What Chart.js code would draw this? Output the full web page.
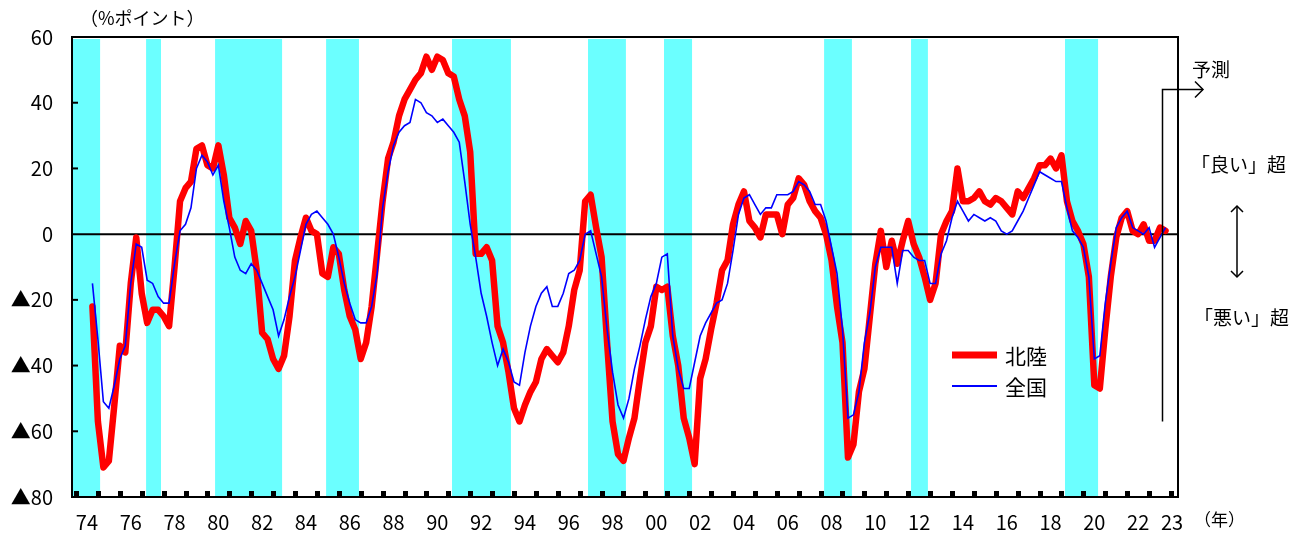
<!DOCTYPE html>
<html>
<head>
<meta charset="utf-8">
<script src="https://cdn.jsdelivr.net/npm/chart.js@4.4.1/dist/chart.umd.min.js"></script>
<style>
html, body { margin: 0; padding: 0; background: #fff; }
#wrap { width: 1306px; height: 535px; position: relative; }
</style>
</head>
<body>
<div id="wrap"><canvas id="chart"></canvas></div>
<script>
// 業況判断DI（四半期、1974年9月〜2023年9月予測）
const firstQuarter = 1974.75;

const hokuriku = [
    -22, -57, -71, -69, -52, -34, -36, -15, -1, -18,
    -27, -23, -23, -25, -28, -10, 10, 14, 16, 26,
    27, 21, 20, 27, 18, 5, 2, -3, 4, 1,
    -11, -30, -32, -38, -41, -37, -25, -8, -1, 5,
    1, 0, -12, -13, -4, -6, -17, -25, -29, -38,
    -33, -22, -6, 10, 23, 28, 36, 41, 44, 47,
    49, 54, 50, 54, 53, 49, 48, 41, 36, 25,
    -6, -6, -4, -8, -28, -33, -42, -53, -57, -52,
    -48, -45, -38, -35, -37, -39, -36, -28, -17, -11,
    10, 12, 2, -7, -33, -57, -67, -69, -62, -56,
    -44, -33, -28, -16, -17, -16, -31, -40, -56, -62,
    -70, -44, -38, -29, -21, -11, -8, 3, 9, 13,
    4, 2, -1, 6, 6, 6, 0, 9, 11, 17,
    15, 10, 7, 5, 0, -8, -22, -33, -68, -64,
    -48, -41, -25, -9, 1, -10, -2, -9, -2, 4,
    -3, -7, -13, -20, -15, 0, 4, 7, 20, 10,
    10, 11, 13, 10, 9, 11, 10, 8, 6, 13,
    11, 14, 17, 21, 21, 23, 20, 24, 10, 4,
    1, -3, -13, -46, -47, -29, -13, -1, 5, 7,
    1, 0, 3, -2, -2, 2, 1
];

const zenkoku = [
    -15, -32, -51, -53, -46, -38, -34, -15, -3, -4,
    -14, -15, -19, -21, -21, -9, 1, 3, 8, 20,
    24, 22, 18, 21, 10, 2, -7, -11, -12, -9,
    -11, -15, -19, -23, -31, -26, -19, -13, -5, 3,
    6, 7, 5, 3, 0, -7, -15, -21, -26, -27,
    -27, -22, -12, 8, 19, 27, 31, 33, 34, 41,
    40, 37, 36, 34, 35, 33, 31, 28, 16, 3,
    -7, -18, -25, -33, -40, -35, -39, -45, -46, -36,
    -28, -22, -18, -16, -22, -22, -18, -12, -11, -8,
    0, 1, -6, -13, -29, -42, -52, -56, -50, -41,
    -34, -26, -19, -15, -7, -6, -31, -41, -47, -47,
    -39, -31, -27, -24, -21, -20, -15, -5, 6, 11,
    12, 9, 6, 8, 8, 12, 12, 12, 13, 16,
    15, 13, 9, 9, 4, -4, -12, -29, -56, -55,
    -48, -33, -24, -10, -4, -4, -4, -15, -5, -5,
    -7, -8, -8, -15, -15, -6, -2, 5, 10, 7,
    4, 6, 5, 4, 5, 4, 1, 0, 1, 4,
    7, 11, 15, 19, 18, 17, 16, 16, 8, 1,
    -1, -4, -13, -38, -37, -21, -9, 2, 5, 7,
    2, 1, 0, 2, -4, -1, 2
];

// 景気後退期（シャドー部分）
const recessionStart = [1973.82, 1977.20, 1980.35, 1985.42, 1991.17, 1997.38, 2000.85, 2008.16, 2012.13, 2019.16];
const recessionEnd   = [1975.10, 1977.88, 1983.41, 1986.92, 1993.86, 1999.11, 2002.13, 2009.43, 2012.90, 2020.67];

const yearLabels = ['74', '76', '78', '80', '82', '84', '86', '88', '90', '92', '94', '96', '98',
    '00', '02', '04', '06', '08', '10', '12', '14', '16', '18', '20', '22', '23'];
const yearLabelPos = [1974.5, 1976.5, 1978.5, 1980.5, 1982.5, 1984.5, 1986.5, 1988.5, 1990.5,
    1992.5, 1994.5, 1996.5, 1998.5, 2000.5, 2002.5, 2004.5, 2006.5, 2008.5, 2010.5, 2012.5,
    2014.5, 2016.5, 2018.5, 2020.5, 2022.5, 2024.05];

const forecastAt = 2023.6;
const yTicks = [60, 40, 20, 0, -20, -40, -60, -80];

const quarters = hokuriku.map((_, i) => firstQuarter + i * 0.25);
const toPoints = arr => arr.map((v, i) => ({ x: quarters[i], y: v }));

const JP = '"Noto Sans CJK JP", "Noto Sans", sans-serif';

function arrowHead(ctx, x, y, dir, size) {
    // dir: 'right', 'up', 'down'
    ctx.beginPath();
    if (dir === 'right') {
        ctx.moveTo(x - size, y - size); ctx.lineTo(x, y); ctx.lineTo(x - size, y + size);
    } else if (dir === 'up') {
        ctx.moveTo(x - size, y + size); ctx.lineTo(x, y); ctx.lineTo(x + size, y + size);
    } else {
        ctx.moveTo(x - size, y - size); ctx.lineTo(x, y); ctx.lineTo(x + size, y - size);
    }
    ctx.stroke();
}

const decor = {
    id: 'decor',
    beforeDatasetsDraw(chart) {
        const { ctx, chartArea: a, scales: { x, y } } = chart;
        ctx.save();
        ctx.fillStyle = '#6BFFFF';
        recessionStart.forEach((s, k) => {
            const x1 = Math.max(x.getPixelForValue(s), a.left + 1);
            const x2 = x.getPixelForValue(recessionEnd[k]);
            ctx.fillRect(x1, a.top + 2, x2 - x1, a.bottom - a.top - 2);
        });
        const y0 = y.getPixelForValue(0);
        ctx.strokeStyle = '#000';
        ctx.lineWidth = 2;
        ctx.beginPath();
        ctx.moveTo(a.left, y0);
        ctx.lineTo(a.right, y0);
        ctx.stroke();
        ctx.restore();
    },
    afterDatasetsDraw(chart) {
        const { ctx, chartArea: a, scales: { x, y } } = chart;
        ctx.save();

        // frame
        ctx.strokeStyle = '#000';
        ctx.lineWidth = 2;
        ctx.strokeRect(a.left, a.top, a.right - a.left, a.bottom - a.top);

        // inner y ticks
        yTicks.forEach(v => {
            if (v === 0 || v === 60 || v === -80) return;
            const py = y.getPixelForValue(v);
            ctx.beginPath();
            ctx.moveTo(a.left, py);
            ctx.lineTo(a.left + 6, py);
            ctx.stroke();
        });

        // year tick squares on the bottom axis
        ctx.fillStyle = '#000';
        for (let yr = 1974; yr <= 2024; yr++) {
            const px = x.getPixelForValue(yr);
            ctx.fillRect(Math.round(px) - 2, a.bottom - 6, 5, 6);
        }

        // forecast marker
        const fx = Math.round(x.getPixelForValue(forecastAt)) + 0.5;
        const fTop = y.getPixelForValue(44);
        const fBot = y.getPixelForValue(-57);
        ctx.lineWidth = 1.5;
        ctx.beginPath();
        ctx.moveTo(fx, fBot);
        ctx.lineTo(fx, fTop);
        ctx.lineTo(1203, fTop);
        ctx.stroke();
        arrowHead(ctx, 1203, fTop, 'right', 8);

        // 良い / 悪い double arrow
        ctx.beginPath();
        ctx.moveTo(1237, 206);
        ctx.lineTo(1237, 277);
        ctx.stroke();
        arrowHead(ctx, 1237, 206, 'up', 6);
        arrowHead(ctx, 1237, 277, 'down', 6);

        ctx.fillStyle = '#000';
        ctx.textBaseline = 'middle';
        ctx.textAlign = 'left';
        ctx.font = '19px ' + JP;
        ctx.fillText('予測', 1192, 70);
        ctx.fillText('「良い」超', 1191, 165);
        ctx.fillText('「悪い」超', 1194, 318);
        ctx.font = '18px ' + JP;
        ctx.fillText('（%ポイント）', 80, 18);
        ctx.font = '17px ' + JP;
        ctx.fillText('（年）', 1194, 520);

        // legend
        chart.data.datasets.forEach((ds, k) => {
            const ly = k === 0 ? 355 : 386;
            ctx.strokeStyle = ds.borderColor;
            ctx.lineWidth = k === 0 ? 7 : 2;
            ctx.beginPath();
            ctx.moveTo(952, ly);
            ctx.lineTo(997, ly);
            ctx.stroke();
            ctx.fillStyle = '#000';
            ctx.font = '21px ' + JP;
            ctx.fillText(ds.label, 1005, ly + 1);
        });

        ctx.restore();
    }
};

new Chart(document.getElementById('chart'), {
    type: 'line',
    data: {
        datasets: [
            {
                label: '北陸',
                data: toPoints(hokuriku),
                borderColor: '#FF0000',
                borderWidth: 6.5,
                borderJoinStyle: 'round',
                borderCapStyle: 'round',
                pointRadius: 0,
                tension: 0,
                order: 1
            },
            {
                label: '全国',
                data: toPoints(zenkoku),
                borderColor: '#0000FF',
                borderWidth: 1.6,
                pointRadius: 0,
                tension: 0,
                order: 0
            }
        ]
    },
    options: {
        responsive: true,
        maintainAspectRatio: false,
        animation: false,
        layout: { padding: { top: 37, right: 128, left: 0, bottom: 0 } },
        plugins: {
            legend: { display: false },
            tooltip: { enabled: false }
        },
        scales: {
            x: {
                type: 'linear',
                min: 1973.817,
                max: 2024.32,
                grid: { display: false, drawTicks: false },
                border: { display: false },
                afterFit: s => { s.height = 38; },
                afterBuildTicks: s => { s.ticks = yearLabelPos.map(v => ({ value: v })); },
                ticks: {
                    autoSkip: false,
                    maxRotation: 0,
                    padding: 13,
                    color: '#000',
                    font: { family: JP, size: 20 },
                    callback: (v, i) => yearLabels[i]
                }
            },
            y: {
                min: -80,
                max: 60,
                grid: { display: false, drawTicks: false },
                border: { display: false },
                afterFit: s => { s.width = 72; },
                afterBuildTicks: s => { s.ticks = yTicks.map(v => ({ value: v })); },
                ticks: {
                    padding: 19,
                    color: '#000',
                    font: { family: JP, size: 20 },
                    callback: v => v < 0 ? '▲' + (-v) : String(v)
                }
            }
        }
    },
    plugins: [decor]
});
</script>
</body>
</html>
